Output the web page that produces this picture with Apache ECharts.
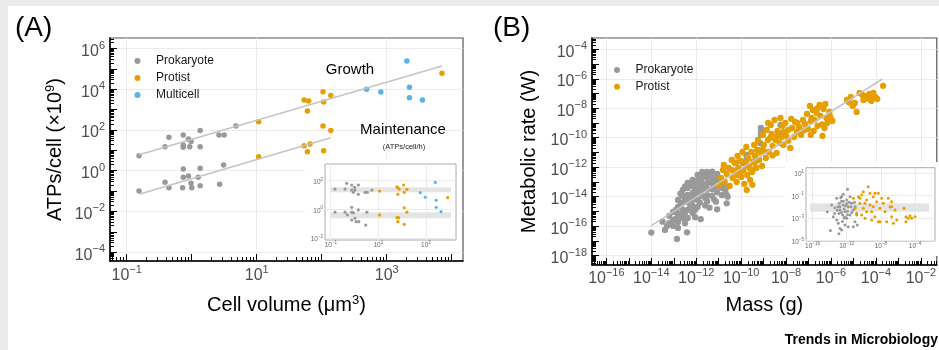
<!DOCTYPE html>
<html><head><meta charset="utf-8">
<script src="https://cdn.jsdelivr.net/npm/echarts@6/dist/echarts.min.js"></script>
<style>
html,body{margin:0;padding:0;background:#fff;}
#c{width:939px;height:350px;background:#fff;box-shadow:inset 8px 6px 0 0 #ebebeb;}
</style>
</head><body><div id="c"></div>
<script>
// ---------- Panel A : values are log10(cell volume, µm³) and log10(ATPs/cell, ×10⁹) ----------
const growthProkaryote = [[-0.81,0.74],[-0.41,1.18],[-0.35,1.64],[-0.13,1.75],[-0.05,1.56],[-0.13,1.26],[-0.13,1.15],[-0.01,1.43],[-0.03,1.18],[0.13,1.97],[0.13,1.18],[0.42,1.75],[0.50,1.75],[0.68,2.20]];
const growthProtist = [[1.03,2.41],[1.73,3.47],[1.80,3.43],[1.78,2.93],[2.02,3.88],[2.03,3.38],[2.14,3.69],[3.85,4.79]];
const growthMulticell = [[2.69,4.00],[2.91,3.87],[3.31,5.39],[3.35,4.10],[3.35,3.59],[3.55,3.47]];
const maintProkaryote = [[-0.81,-1.00],[-0.41,-0.57],[-0.35,-0.84],[-0.13,0.08],[-0.13,-0.32],[-0.05,-0.26],[-0.14,-0.84],[-0.01,-0.62],[0.00,-0.84],[0.10,-0.32],[0.13,0.12],[0.13,-0.74],[0.43,-0.67],[0.49,0.28]];
const maintProtist = [[1.03,0.69],[1.73,1.23],[1.82,1.31],[1.78,0.93],[2.02,2.20],[2.14,1.98],[2.03,0.98]];
const growthFit = [[-0.81,0.78],[3.85,5.14]];
const maintenanceFit = [[-0.81,-1.16],[2.14,1.62]];
// inset A (log10 per-hour rates)
const insetUpperProkaryote = [[-0.82,1.42],[-0.40,1.42],[-0.33,1.82],[-0.12,1.70],[-0.12,1.35],[-0.05,1.19],[0.02,1.35],[0.16,1.70],[0.00,1.54],[0.16,1.06],[0.44,1.19],[0.54,1.19],[0.73,1.35]];
const insetUpperProtist = [[1.05,1.28],[1.78,1.58],[1.82,1.51],[1.88,1.42],[1.82,1.06],[2.06,1.70],[2.09,1.19],[2.20,1.40],[3.91,0.82]];
const insetUpperMulticell = [[3.39,1.89],[2.76,1.17],[2.97,0.85],[3.43,0.64],[3.43,0.15],[3.63,-0.15]];
const insetLowerProkaryote = [[-0.82,-0.19],[-0.40,-0.19],[-0.30,-0.38],[-0.12,0.15],[-0.12,-0.19],[-0.05,-0.22],[-0.12,-0.73],[0.02,-0.61],[0.07,-0.85],[0.18,-0.85],[0.16,-0.03],[0.52,-0.19],[0.47,-1.08]];
const insetLowerProtist = [[1.05,-0.38],[1.78,-0.57],[1.85,-0.57],[1.82,-0.85],[2.09,0.12],[2.20,-0.19],[2.09,-1.03]];
const insetABands = [[-1.03,4.05,1.19,1.54],[-1.03,4.05,-0.61,-0.19]];

// ---------- Panel B : values are log10(mass, g) and log10(metabolic rate, W) ----------
const prokaryoteB = [
[-14.00,-16.44],[-13.39,-16.26],[-12.86,-16.87],[-12.41,-16.42],[-11.80,-15.53],[-11.41,-14.75],[-11.07,-14.86],[-11.12,-14.34],[-10.64,-14.45],
[-13.03,-15.04],[-13.03,-15.58],[-13.03,-15.99],
[-12.81,-14.22],[-12.81,-14.70],[-12.81,-15.17],[-12.81,-15.72],[-12.81,-16.12],
[-12.60,-13.55],[-12.60,-13.95],[-12.60,-14.43],[-12.60,-14.90],[-12.60,-15.45],
[-12.38,-13.07],[-12.38,-13.41],[-12.38,-13.88],[-12.38,-14.36],[-12.38,-14.90],[-12.38,-15.45],
[-12.16,-12.87],[-12.16,-13.27],[-12.16,-13.75],[-12.16,-14.22],[-12.16,-14.63],[-12.16,-15.11],
[-11.94,-12.53],[-11.94,-12.93],[-11.94,-13.34],[-11.94,-13.75],[-11.94,-14.22],[-11.94,-14.70],
[-11.73,-12.32],[-11.73,-12.73],[-11.73,-13.14],[-11.73,-13.55],[-11.73,-13.95],
[-11.51,-12.32],[-11.51,-12.66],[-11.51,-13.07],[-11.51,-13.48],[-11.51,-13.90],[-11.51,-14.30],
[-11.29,-12.30],[-11.29,-12.70],[-11.29,-13.10],[-11.29,-13.50],[-11.29,-13.95],
[-11.07,-12.46],[-11.07,-12.87],[-11.07,-13.27],[-11.07,-13.70],
[-10.86,-12.90],[-10.86,-13.40],[-10.86,-13.90],
[-10.64,-13.35],[-10.64,-13.90],[-10.70,-13.70],[-10.60,-14.00],
[-12.70,-13.80],[-12.70,-14.60],[-12.70,-15.30],[-12.27,-13.20],[-12.27,-14.00],[-12.27,-14.70],
[-11.84,-12.70],[-11.84,-13.50],[-11.84,-14.40],[-11.40,-12.45],[-11.40,-12.90],[-10.97,-12.75],[-13.20,-15.30],[-13.20,-15.80],
[-12.90,-14.90],[-12.90,-15.50],[-12.50,-13.30],[-12.50,-14.20],[-12.50,-15.10],[-12.50,-15.80],[-12.05,-13.00],[-12.05,-13.50],[-12.05,-14.00],[-12.05,-14.90],[-12.05,-15.40],
[-11.60,-12.50],[-11.60,-13.30],[-11.60,-14.10],[-11.60,-14.60],[-11.20,-12.90],[-11.20,-13.30],[-11.20,-14.20],[-10.90,-13.15],[-13.50,-15.70],[-13.30,-16.00],
[-10.23,-11.69],[-9.77,-11.17],[-9.77,-11.85],[-9.77,-11.50],[-9.91,-11.73],[-9.12,-9.34],[-9.12,-9.54],[-9.12,-9.81],[-9.15,-10.37],[-8.25,-9.13],[-8.32,-9.70]
];
const protistB = [
[-10.99,-13.21],[-10.90,-12.73],[-10.81,-12.19],[-10.77,-11.85],[-10.73,-13.00],[-10.64,-12.46],[-10.55,-12.05],[-10.51,-13.27],[-10.42,-11.51],[-10.38,-12.73],[-10.33,-12.26],[-10.29,-11.71],[-10.20,-13.00],[-10.20,-12.53],[-10.16,-11.24],[-10.12,-12.05],[-10.03,-11.58],[-9.99,-12.66],[-9.94,-10.97],[-9.90,-12.19],[-9.86,-13.14],[-9.81,-11.71],[-9.77,-10.63],[-9.73,-12.53],[-9.68,-11.37],[-9.64,-11.98],[-9.60,-12.87],[-9.55,-10.97],[-9.51,-12.32],[-9.47,-11.64],[-9.42,-10.49],[-9.38,-11.24],[-9.33,-12.05],[-9.29,-10.83],[-9.50,-13.20],[-9.75,-13.55],
[-9.40,-11.70],[-9.60,-12.10],[-10.00,-12.30],[-10.40,-12.20],[-9.20,-11.00],[-8.60,-11.20],
[-9.25,-10.15],[-9.20,-11.51],[-9.12,-10.83],[-9.07,-11.92],[-9.03,-9.81],[-8.99,-10.49],[-8.90,-11.37],[-8.86,-9.47],[-8.81,-10.15],[-8.77,-10.97],[-8.68,-9.13],[-8.64,-9.74],[-8.60,-10.56],[-8.51,-8.79],[-8.47,-10.15],[-8.42,-11.03],[-8.38,-9.54],[-8.29,-10.35],[-8.25,-8.66],[-8.20,-9.95],[-8.16,-9.20],[-8.12,-10.49],[-8.03,-9.00],[-7.99,-9.88],[-7.90,-9.47],[-7.81,-10.69],[-7.77,-8.72],[-7.73,-9.34],[-7.64,-9.95],[-7.60,-8.93],[-7.51,-9.61],[-7.42,-9.27],[-7.33,-9.81],[-7.25,-8.79],
[-9.00,-10.90],[-8.70,-10.00],[-8.40,-9.90],[-8.10,-9.60],[-7.90,-10.20],[-7.50,-9.00],[-7.20,-9.50],[-8.80,-9.00],
[-7.16,-9.06],[-7.07,-8.39],[-7.03,-9.40],[-6.94,-7.84],[-6.90,-9.81],[-6.86,-8.66],[-6.81,-8.11],[-6.77,-9.54],[-6.73,-8.79],[-6.64,-8.32],[-6.60,-9.20],[-6.51,-7.77],[-6.47,-8.52],[-6.38,-9.88],[-6.33,-8.05],[-6.29,-9.34],[-6.25,-7.71],[-6.20,-8.66],[-6.16,-9.00],[-6.07,-8.25],[-6.03,-8.59],[-5.94,-8.86],
[-6.90,-8.90],[-6.60,-8.00],[-6.40,-9.10],
[-5.29,-7.44],[-5.12,-7.23],[-5.03,-7.84],[-4.94,-7.64],[-4.86,-8.25],[-4.73,-6.96],[-4.55,-7.44],[-4.42,-7.16],[-4.29,-7.03],[-4.20,-7.50],[-4.12,-6.96],[-4.03,-7.23],[-3.94,-7.37],[-3.68,-6.48],
[-4.60,-7.10],[-4.35,-7.35],[-4.15,-7.15],[-5.20,-7.60]
];
const massFit = [[-14.00,-15.97],[-3.71,-6.01]];
// inset B (log10 mass-specific rate)
const insetProkaryoteB = [[-14.27,-2.44],[-13.57,-2.88],[-13.37,-2.08],[-13.17,-1.25],[-12.98,-3.47],[-12.78,-3.92],[-12.59,-4.07],[-12.86,-1.69],[-12.59,-1.11],[-12.40,-1.84],[-12.20,-2.44],[-12.00,-1.40],[-12.00,-3.03],[-11.81,-2.00],[-11.61,-1.11],[-11.61,-2.73],[-11.41,-1.69],[-11.23,-2.29],[-11.90,-0.45],[-11.03,-3.33],[-10.83,-2.73],[-10.76,-3.62],[-12.78,-2.29],[-12.47,-2.73],[-12.20,-3.62],[-13.17,-3.18],[-13.76,-1.84],[-11.81,-3.77],[-11.22,-3.77],[-12.40,-0.89],[-12.60,-1.50],[-12.30,-2.20],[-12.90,-2.60],[-12.10,-1.90],[-11.90,-2.40],[-12.50,-3.30],[-13.00,-2.00],[-11.70,-1.60],[-12.20,-2.90],[-13.40,-2.60],[-13.90,-4.10],[-12.90,-4.40],[-12.70,-1.20],[-12.40,-1.50],[-12.00,-1.70],[-11.50,-2.00],[-12.80,-2.00],[-12.60,-2.50],[-11.90,-2.70],[-11.40,-2.50],[-13.10,-2.30],[-12.30,-3.00],[-11.10,-1.60],[-11.00,-2.00]];
const insetProtistB = [[-11.22,-1.25],[-10.63,-1.11],[-10.24,-0.96],[-10.44,-1.69],[-10.05,-2.14],[-10.24,-2.73],[-9.66,-1.40],[-9.47,-0.22],[-9.27,-1.84],[-9.07,-2.44],[-8.88,-1.11],[-8.69,-2.88],[-8.49,-1.55],[-8.30,-0.80],[-8.10,-2.14],[-8.10,-3.33],[-7.71,-1.69],[-7.51,-2.44],[-7.13,-1.25],[-6.93,-2.00],[-6.73,-2.88],[-6.34,-2.29],[-6.14,-3.18],[-6.54,-3.47],[-7.32,-3.33],[-8.30,-3.33],[-5.29,-2.14],[-5.06,-2.88],[-4.79,-3.03],[-4.59,-2.80],[-4.39,-3.03],[-4.00,-2.88],[-5.06,-3.33],[-9.86,-3.03],[-9.07,-3.18],[-11.03,-2.14],[-10.83,-2.58],[-9.66,-2.44],[-10.44,-1.25],[-9.86,-1.69],[-8.88,-2.00],[-7.90,-1.25],[-9.27,-0.80],[-10.05,-0.66],[-8.69,-0.80],[-6.73,-1.55],[-6.73,-2.00]];
const insetBBands = [[-16.30,-2.35,-2.44,-1.69]];

// ---------- tick / label values (log10 exponents) ----------
const aXLabels = [-1,1,3], aYLabels = [-4,-2,0,2,4,6];
const bXLabels = [-16,-14,-12,-10,-8,-6,-4,-2], bYLabels = [-18,-16,-14,-12,-10,-8,-6,-4];
const insetAXLabels = [-1,1,3], insetAYLabels = [-2,0,2];
const insetBXLabels = [-16,-12,-8,-4], insetBYLabels = [-5,-3,-1,1];

const FONT = '"Liberation Sans", Arial, Helvetica, sans-serif';
const C_PRO = '#999999', C_PRT = '#E69F00', C_MUL = '#56B4E9';

function decades(lo, hi){ const o=[]; for(let n=Math.ceil(lo); n<=Math.floor(hi); n++) o.push(n); return o; }
function minors(lo, hi){ const o=[]; for(let n=Math.floor(lo)-1; n<=Math.ceil(hi); n++) for(let k=2;k<=9;k++){ const v=n+Math.log10(k); if(v>=lo && v<=hi) o.push(+v.toFixed(4)); } return o; }
function expText(v){ const n=Math.round(v); return n<0 ? '\u2212'+Math.abs(n) : ''+n; }
const fmt = v => '{b|10}{s|'+expText(v)+'}';
// superscripts: base token padded on top, superscript token padded at bottom
function richFor(bs, ss, color, pad){
  return { b:{fontSize:bs, lineHeight:bs, padding:[pad,0,0,0], color, fontFamily:FONT},
           s:{fontSize:ss, lineHeight:ss, padding:[0,0,pad,0], color, fontFamily:FONT} };
}
const mainRich = richFor(16, 11, '#4d4d4d', 6);
const insetRich = richFor(6.5, 4.5, '#666', 2.5);
const nameRich = { t:{fontSize:20, lineHeight:20, padding:[4,0,0,0], color:'#000', fontFamily:FONT},
                   s:{fontSize:13, lineHeight:13, padding:[0,0,5,0], color:'#000', fontFamily:FONT} };

const xAxes = [], yAxes = [];
function addAxes(list, dim, grid, range, labels, o){
  const pos = dim==='x' ? 'bottom' : 'left';
  const base = {type:'value', gridIndex:grid, min:range[0], max:range[1], position:pos, z:o.z||0, silent:true};
  const idx = list.length;
  list.push(Object.assign({}, base, {
    axisLine:{show:!!o.line, onZero:false, lineStyle:{color:'#000', width:1.5}},
    axisTick:{show:false, customValues:labels},
    axisLabel:{show:true, customValues:labels, formatter:fmt, rich:o.rich, margin:o.margin, hideOverlap:false, showMinLabel:true, showMaxLabel:true},
    splitLine:{show:true, lineStyle:{color:o.gridColor||'#ebebeb', width:1}},
    name:o.name||'', nameLocation:'middle', nameGap:o.nameGap||0, nameRotate:dim==='y'?90:0,
    nameTextStyle:{rich:nameRich, color:'#000'}
  }));
  if(o.majorLen){
    list.push(Object.assign({}, base, {
      axisLine:{show:false, onZero:false},
      axisTick:{show:true, inside:true, length:o.majorLen, customValues:decades(range[0],range[1]), lineStyle:{color:'#000', width:1}},
      axisLabel:{show:false}, splitLine:{show:false}
    }));
    list.push(Object.assign({}, base, {
      axisLine:{show:false, onZero:false},
      axisTick:{show:true, inside:true, length:o.minorLen, customValues:minors(range[0],range[1]), lineStyle:{color:'#000', width:1}},
      axisLabel:{show:false}, splitLine:{show:false}
    }));
  }
  return idx;
}

// axis ranges in log10 units
const aX=[-1.257,4.174], aY=[-4.437,6.52], iaX=[-1.24,4.26], iaY=[-2.12,3.16];
const bX=[-16.64,-1.29], bY=[-18.64,-3.23], ibX=[-16.76,-1.66], ibY=[-5.04,1.47];

const ax0 = addAxes(xAxes,'x',0,aX,aXLabels,{line:true, rich:mainRich, margin:4, majorLen:7, minorLen:4, name:'{t|Cell volume (\u03bcm}{s|3}{t|)}', nameGap:32});
const ay0 = addAxes(yAxes,'y',0,aY,aYLabels,{line:true, rich:mainRich, margin:5, majorLen:7, minorLen:4, name:'{t|ATPs/cell (\u00d710}{s|9}{t|)}', nameGap:47});
const ax1 = addAxes(xAxes,'x',1,iaX,insetAXLabels,{rich:insetRich, margin:1, z:20});
const ay1 = addAxes(yAxes,'y',1,iaY,insetAYLabels,{rich:insetRich, margin:2, z:20});
const ax2 = addAxes(xAxes,'x',2,bX,bXLabels,{line:true, rich:mainRich, margin:3, majorLen:7, minorLen:4, name:'{t|Mass (g)}', nameGap:28});
const ay2 = addAxes(yAxes,'y',2,bY,bYLabels,{line:true, rich:mainRich, margin:5, majorLen:7, minorLen:4, name:'{t|Metabolic rate (W)}', nameGap:55});
const ax3 = addAxes(xAxes,'x',3,ibX,insetBXLabels,{rich:insetRich, margin:1, z:20});
const ay3 = addAxes(yAxes,'y',3,ibY,insetBYLabels,{rich:insetRich, margin:2, z:20});

function scatter(name, data, xi, yi, color, size, z){
  return {type:'scatter', name, data, xAxisIndex:xi, yAxisIndex:yi, symbol:'circle', symbolSize:size,
          itemStyle:{color, opacity:1}, z, silent:true, clip:false};
}
function fitLine(data, xi, yi){
  return {type:'line', name:'fit', data, xAxisIndex:xi, yAxisIndex:yi, symbol:'none', silent:true,
          lineStyle:{color:'#c4c4c4', width:1.6}, z:5};
}
function bands(data, xi, yi){
  return {type:'custom', name:'band', data, xAxisIndex:xi, yAxisIndex:yi, z:21, silent:true,
    encode:{x:[0,1], y:[2,3]},
    renderItem:(p, api) => {
      const a = api.coord([api.value(0), api.value(3)]);
      const b = api.coord([api.value(1), api.value(2)]);
      return {type:'rect', shape:{x:a[0], y:a[1], width:b[0]-a[0], height:b[1]-a[1]}, style:{fill:'#e4e4e4'}};
    }};
}

const series = [
  scatter('Prokaryote', growthProkaryote.concat(maintProkaryote), ax0, ay0, C_PRO, 5.5, 2),
  scatter('Protist', growthProtist.concat(maintProtist), ax0, ay0, C_PRT, 5.5, 2),
  scatter('Multicell', growthMulticell, ax0, ay0, C_MUL, 5.5, 2),
  fitLine(growthFit, ax0, ay0), fitLine(maintenanceFit, ax0, ay0),
  bands(insetABands, ax1, ay1),
  scatter('Prokaryote', insetUpperProkaryote.concat(insetLowerProkaryote), ax1, ay1, C_PRO, 3.2, 22),
  scatter('Protist', insetUpperProtist.concat(insetLowerProtist), ax1, ay1, C_PRT, 3.2, 22),
  scatter('Multicell', insetUpperMulticell, ax1, ay1, C_MUL, 3.2, 22),
  scatter('Prokaryote', prokaryoteB, ax2, ay2, C_PRO, 6.3, 2),
  scatter('Protist', protistB, ax2, ay2, C_PRT, 6.3, 2),
  fitLine(massFit, ax2, ay2),
  bands(insetBBands, ax3, ay3),
  scatter('Prokaryote', insetProkaryoteB, ax3, ay3, C_PRO, 3, 22),
  scatter('Protist', insetProtistB, ax3, ay3, C_PRT, 3, 22)
];

const legendCommon = {orient:'vertical', icon:'circle', itemWidth:27, itemHeight:6, itemGap:5, padding:0,
  selectedMode:false, textStyle:{fontSize:12, lineHeight:12, color:'#1a1a1a', fontFamily:FONT}};

const option = {
  animation:false,
  textStyle:{fontFamily:FONT},
  grid:[
    {left:110, top:38, width:353, height:223, show:true, borderColor:'#555', borderWidth:1.2, backgroundColor:'transparent', z:0},
    {left:325, top:164, width:131, height:76, show:true, borderColor:'#aaa', borderWidth:1, backgroundColor:'transparent', z:20},
    {left:592, top:38, width:353, height:227, show:true, borderColor:'#555', borderWidth:1.2, backgroundColor:'transparent', z:0},
    {left:806, top:167.7, width:129, height:73.3, show:true, borderColor:'#aaa', borderWidth:1, backgroundColor:'transparent', z:20}
  ],
  xAxis:xAxes, yAxis:yAxes,
  legend:[
    Object.assign({}, legendCommon, {data:['Prokaryote','Protist','Multicell'], left:134.5, top:55}),
    Object.assign({}, legendCommon, {data:['Prokaryote','Protist'], left:614, top:64, itemGap:4.7})
  ],
  graphic:[
    {type:'rect', shape:{x:305, y:160, width:156, height:92}, style:{fill:'#fff'}, z:10, silent:true},
    {type:'rect', shape:{x:785, y:162, width:160, height:94}, style:{fill:'#fff'}, z:10, silent:true},
    {type:'text', x:15, y:28, z:30, style:{text:'(A)', font:'28px '+FONT, fill:'#000', align:'left', verticalAlign:'middle'}},
    {type:'text', x:493, y:28, z:30, style:{text:'(B)', font:'28px '+FONT, fill:'#000', align:'left', verticalAlign:'middle'}},
    {type:'text', x:350, y:70, z:30, style:{text:'Growth', font:'15px '+FONT, fill:'#000', align:'center', verticalAlign:'middle'}},
    {type:'text', x:403, y:130, z:30, style:{text:'Maintenance', font:'15px '+FONT, fill:'#000', align:'center', verticalAlign:'middle'}},
    {type:'text', x:404, y:147, z:30, style:{text:'(ATPs/cell/h)', font:'7.5px '+FONT, fill:'#222', align:'center', verticalAlign:'middle'}},
    {type:'text', x:938, y:340, z:30, style:{text:'Trends in Microbiology', font:'bold 14px '+FONT, fill:'#000', align:'right', verticalAlign:'middle'}}
  ],
  series
};
const chart = echarts.init(document.getElementById('c'), null, {renderer:'canvas', width:939, height:350});
chart.setOption(option);
</script>
</body></html>
